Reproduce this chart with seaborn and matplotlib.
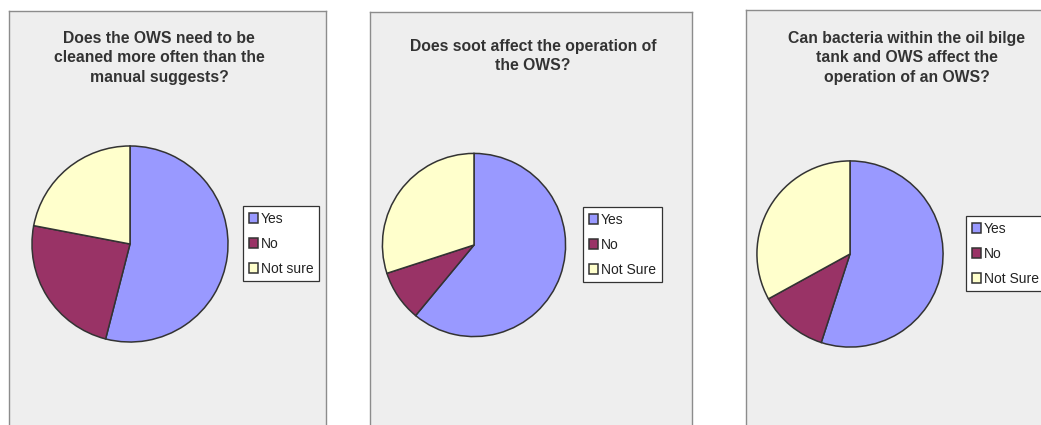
import matplotlib
matplotlib.use('Agg')
import matplotlib.pyplot as plt
import seaborn as sns

# survey answers, share of respondents (%)
titles = [
    "Does the OWS need to be\ncleaned more often than the\nmanual suggests?",
    "Does soot affect the operation of\nthe OWS?",
    "Can bacteria within the oil bilge\ntank and OWS affect the\noperation of an OWS?",
]
yes_pct = [54, 61, 55]
no_pct = [24, 9, 12]
unsure_pct = [22, 30, 33]
answer_labels = [
    ["Yes", "No", "Not sure"],
    ["Yes", "No", "Not Sure"],
    ["Yes", "No", "Not Sure"],
]

sns.set_style('white')
plt.rcParams['font.family'] = ['Liberation Sans', 'DejaVu Sans']
colors = sns.color_palette(['#9999FF', '#993366', '#FFFFCC'])

W, H = 1041, 425
fig = plt.figure(figsize=(W / 100, H / 100), dpi=100)
fig.patch.set_facecolor('white')


def px_axes(x0, y0, x1, y1):
    # pixel box, y measured from the top of the image
    return fig.add_axes([x0 / W, 1 - y1 / H, (x1 - x0) / W, (y1 - y0) / H])


# panel layout in pixels
layout = [
    dict(box=(9, 11, 326, 440), center=(130, 244), r=99, title=(159, 58), legend=(243, 206)),
    dict(box=(370, 12, 692, 440), center=(474, 245), r=92.5, title=(533, 56), legend=(583, 207)),
    dict(box=(746, 10, 1060, 440), center=(850, 254), r=94, title=(907, 58), legend=(966, 216)),
]

for i, lay in enumerate(layout):
    bg = px_axes(*lay['box'])
    bg.set_facecolor('#EEEEEE')
    bg.set_xticks([])
    bg.set_yticks([])
    for side, sp in bg.spines.items():
        sp.set_visible(True)
        sp.set_color('#8C8C8C')
        sp.set_linewidth(1.0)

    cx, cy = lay['center']
    r = lay['r']
    ax = px_axes(cx - r, cy - r, cx + r, cy + r)
    vals = [yes_pct[i], no_pct[i], unsure_pct[i]]
    wedges, _ = ax.pie(vals, colors=colors, startangle=90, counterclock=False,
                       radius=1.0,
                       wedgeprops=dict(edgecolor='#333333', linewidth=1.1))
    ax.set_xlim(-1.01, 1.01)
    ax.set_ylim(-1.01, 1.01)
    ax.set_aspect('equal')
    ax.axis('off')

    tx, ty = lay['title']
    fig.text(tx / W, 1 - ty / H, titles[i], ha='center', va='center',
             fontsize=11.3, fontweight='bold', color='#333333', linespacing=1.4)

    lx, ly = lay['legend']
    leg = fig.legend(wedges, answer_labels[i], loc='upper left',
                     bbox_to_anchor=(lx / W, 1 - ly / H), borderaxespad=0,
                     fontsize=10, frameon=True, fancybox=False,
                     handlelength=0.7, handleheight=0.7, handletextpad=0.2,
                     labelspacing=0.8, borderpad=0.4)
    leg.get_frame().set_edgecolor('#333333')
    leg.get_frame().set_linewidth(0.9)
    leg.get_frame().set_facecolor('white')
    leg.get_frame().set_alpha(1)
    for t in leg.get_texts():
        t.set_color('#222222')

fig.savefig('out.png', dpi=100, facecolor='white')
